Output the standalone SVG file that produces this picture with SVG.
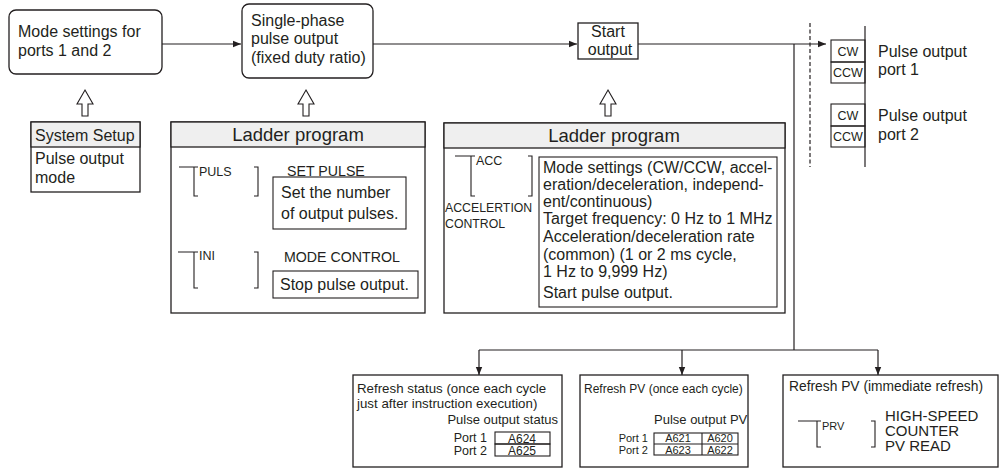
<svg xmlns="http://www.w3.org/2000/svg" width="1002" height="468" viewBox="0 0 1002 468">
<defs>
<style>
text{font-family:"Liberation Sans",Arial,sans-serif;fill:#231f20}
.t{font-size:16px}
.h{font-size:18.5px}
.s{font-size:12.5px}
.xs{font-size:11px}
.lad{font-size:12.5px}
.m{font-size:14.2px}
.b{fill:#fff;stroke:#231f20;stroke-width:1.3}
.hd{fill:#efefef;stroke:#231f20;stroke-width:1.3}
.ln{fill:none;stroke:#231f20;stroke-width:1.2}
.thin{fill:none;stroke:#231f20;stroke-width:1.1}
.ha{fill:#fff;stroke:#231f20;stroke-width:1.1}
</style>
<marker id="ah" viewBox="0 0 10 10" refX="10" refY="5" markerWidth="8" markerHeight="8" markerUnits="userSpaceOnUse" orient="auto">
<path d="M0,1 L10,5 L0,9 Z" fill="#231f20"/>
</marker>
</defs>
<rect width="1002" height="468" fill="#fff"/>

<g id="connectors">
<line class="ln" x1="162" y1="44" x2="241" y2="44" marker-end="url(#ah)"/>
<line class="ln" x1="373" y1="44" x2="577" y2="44" marker-end="url(#ah)"/>
<line class="ln" x1="638" y1="44" x2="826" y2="44" marker-end="url(#ah)"/>
<line class="ln" x1="794" y1="44" x2="794" y2="350"/>
<line class="ln" x1="479" y1="350" x2="878" y2="350"/>
<line class="ln" x1="479" y1="350" x2="479" y2="375" marker-end="url(#ah)"/>
<line class="ln" x1="682" y1="350" x2="682" y2="375" marker-end="url(#ah)"/>
<line class="ln" x1="878" y1="350" x2="878" y2="375" marker-end="url(#ah)"/>
<line class="ln" x1="810" y1="23" x2="810" y2="167" stroke-dasharray="4 2.5"/>
<polygon class="ha" points="85,90 93,104 88,104 88,116 82,116 82,104 77,104"/>
<polygon class="ha" points="306,90 314,104 309,104 309,116 303,116 303,104 298,104"/>
<polygon class="ha" points="608,90 616,104 611,104 611,116 605,116 605,104 600,104"/>
</g>

<g id="mode-settings">
<rect class="b" x="9" y="10" width="153" height="64" rx="7"/>
<text class="t" x="18" y="37">Mode settings for</text>
<text class="t" x="18" y="56">ports 1 and 2</text>
</g>

<g id="single-phase">
<rect class="b" x="242" y="4" width="131" height="74" rx="7"/>
<text class="t" x="251" y="26">Single-phase</text>
<text class="t" x="251" y="44">pulse output</text>
<text class="t" x="251" y="63">(fixed duty ratio)</text>
</g>

<g id="start-output">
<rect class="b" x="578" y="23" width="60" height="36"/>
<text class="t" x="608" y="37" text-anchor="middle">Start</text>
<text class="t" x="610" y="55" text-anchor="middle">output</text>
</g>

<g id="pulse-ports">
<line class="ln" x1="865" y1="26" x2="865" y2="167"/>
<rect class="thin" x="831" y="40" width="34" height="22"/>
<rect class="thin" x="831" y="62" width="34" height="21"/>
<rect class="thin" x="831" y="104" width="34" height="22"/>
<rect class="thin" x="831" y="126" width="34" height="21"/>
<text class="s" x="848" y="56" text-anchor="middle">CW</text>
<text class="s" x="848" y="77" text-anchor="middle">CCW</text>
<text class="s" x="848" y="120" text-anchor="middle">CW</text>
<text class="s" x="848" y="141" text-anchor="middle">CCW</text>
<text class="t" x="878" y="57">Pulse output</text>
<text class="t" x="878" y="75">port 1</text>
<text class="t" x="878" y="121">Pulse output</text>
<text class="t" x="878" y="140">port 2</text>
</g>

<g id="system-setup">
<rect class="b" x="31" y="122" width="109" height="70"/>
<rect class="hd" x="31" y="122" width="109" height="25"/>
<text class="t" x="35" y="141">System Setup</text>
<text class="t" x="35" y="164">Pulse output</text>
<text class="t" x="35" y="183">mode</text>
</g>

<g id="ladder-1">
<rect class="b" x="171" y="122" width="254" height="191"/>
<rect class="hd" x="171" y="122" width="254" height="25"/>
<text class="h" x="298" y="141" text-anchor="middle">Ladder program</text>
<path class="thin" d="M179,167 H194 V196 H198 M194,167 H198 M254,167 H258 V196 H254"/>
<text class="lad" x="199" y="176">PULS</text>
<text class="m" x="287" y="176">SET PULSE</text>
<rect class="thin" x="273" y="177" width="133" height="52"/>
<text class="t" x="281" y="198">Set the number</text>
<text class="t" x="281" y="219">of output pulses.</text>
<path class="thin" d="M178,252 H194 V288 H198 M194,252 H198 M254,252 H258 V288 H254"/>
<text class="lad" x="199" y="260">INI</text>
<text class="m" x="284" y="262">MODE CONTROL</text>
<rect class="thin" x="273" y="271" width="145" height="27"/>
<text class="t" x="280" y="290">Stop pulse output.</text>
</g>

<g id="ladder-2">
<rect class="b" x="444" y="123" width="341" height="190"/>
<rect class="hd" x="444" y="123" width="341" height="25"/>
<text class="h" x="614" y="142" text-anchor="middle">Ladder program</text>
<path class="thin" d="M455,156 H471 V196 H475 M471,156 H475 M528,156 H532 V196 H528"/>
<text class="lad" x="476" y="165">ACC</text>
<text class="lad" x="445" y="212" style="font-size:12.3px">ACCELERTION</text>
<text class="lad" x="445" y="228" style="font-size:12.3px">CONTROL</text>
<rect class="thin" x="539" y="157" width="238" height="150"/>
<text class="t" x="543" y="173">Mode settings (CW/CCW, accel-</text>
<text class="t" x="543" y="190">eration/deceleration, independ-</text>
<text class="t" x="543" y="207">ent/continuous)</text>
<text class="t" x="543" y="224">Target frequency: 0 Hz to 1 MHz</text>
<text class="t" x="543" y="242">Acceleration/deceleration rate</text>
<text class="t" x="543" y="260">(common) (1 or 2 ms cycle,</text>
<text class="t" x="543" y="277">1 Hz to 9,999 Hz)</text>
<text class="t" x="543" y="298">Start pulse output.</text>
</g>

<g id="refresh-status">
<rect class="b" x="353" y="375" width="209" height="92"/>
<text class="s" x="357" y="393" style="font-size:13.3px">Refresh status (once each cycle</text>
<text class="s" x="357" y="408" style="font-size:13.3px">just after instruction execution)</text>
<text class="s" x="558" y="424" style="font-size:13px" text-anchor="end">Pulse output status</text>
<text class="xs" x="487" y="442" style="font-size:12.5px" text-anchor="end">Port 1</text>
<text class="xs" x="487" y="455" style="font-size:12.5px" text-anchor="end">Port 2</text>
<rect class="thin" x="495" y="432" width="55" height="12"/>
<rect class="thin" x="495" y="444" width="55" height="12"/>
<text class="xs" x="522" y="443" style="font-size:12px" text-anchor="middle">A624</text>
<text class="xs" x="522" y="455" style="font-size:12px" text-anchor="middle">A625</text>
</g>

<g id="refresh-pv-cycle">
<rect class="b" x="580" y="375" width="168" height="92"/>
<text class="s" x="584" y="393" style="font-size:12px">Refresh PV (once each cycle)</text>
<text class="s" x="654" y="424" style="font-size:13px">Pulse output PV</text>
<text class="xs" x="648" y="442" text-anchor="end">Port 1</text>
<text class="xs" x="648" y="454" text-anchor="end">Port 2</text>
<rect class="thin" x="654" y="433" width="84" height="22"/>
<line class="thin" x1="654" y1="444" x2="738" y2="444"/>
<line class="thin" x1="702" y1="433" x2="702" y2="455"/>
<text class="xs" x="678" y="442" text-anchor="middle">A621</text>
<text class="xs" x="720" y="442" text-anchor="middle">A620</text>
<text class="xs" x="678" y="454" text-anchor="middle">A623</text>
<text class="xs" x="720" y="454" text-anchor="middle">A622</text>
</g>

<g id="refresh-pv-immediate">
<rect class="b" x="783" y="375" width="215" height="92"/>
<text class="s" x="789" y="391" style="font-size:13.8px">Refresh PV (immediate refresh)</text>
<path class="thin" d="M798,421 H817 V447 H821 M817,421 H821 M871,421 H875 V447 H871"/>
<text class="xs" x="822" y="430">PRV</text>
<text class="t" x="885" y="421" style="font-size:15px">HIGH-SPEED</text>
<text class="t" x="885" y="436" style="font-size:15px">COUNTER</text>
<text class="t" x="885" y="451" style="font-size:15px">PV READ</text>
</g>
</svg>
